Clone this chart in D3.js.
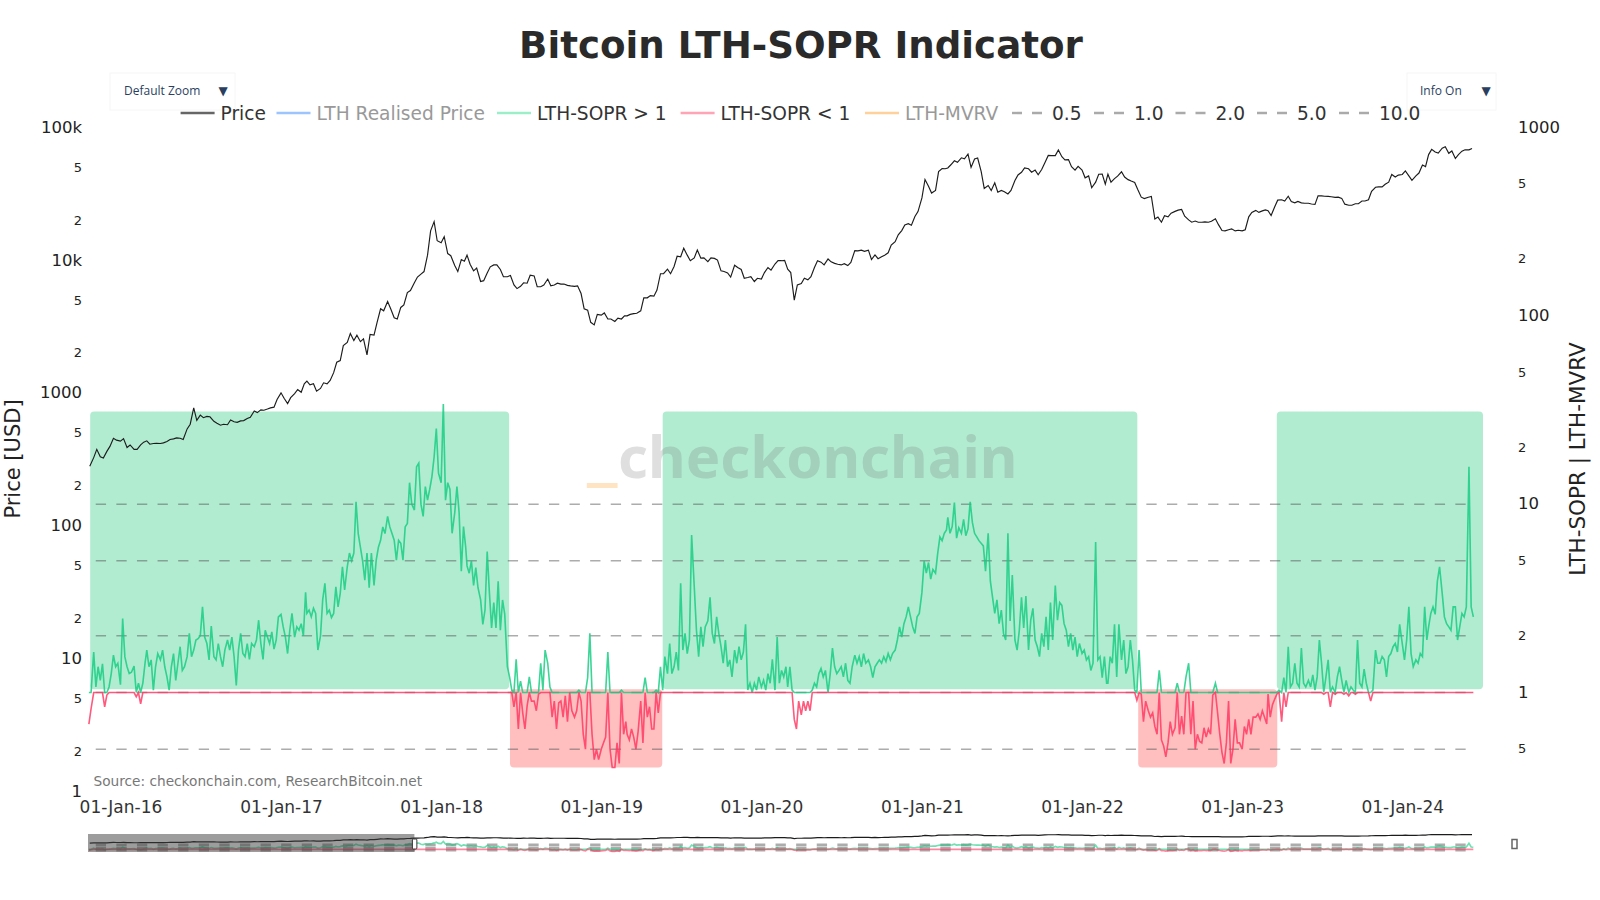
<!DOCTYPE html>
<html>
<head>
<meta charset="utf-8">
<title>Bitcoin LTH-SOPR Indicator</title>
<script src="https://cdn.jsdelivr.net/npm/d3@7"></script>
<style>
  body { margin: 0; background: #fff; }
  text { font-family: "DejaVu Sans", sans-serif; }
  .domain { display: none; }
</style>
</head>
<body>
<svg id="chart" width="1600" height="900"></svg>
<script>
// price, four readings a month (1st, 8th, 16th, 23rd)
var price2015 = [280, 325,375,330,323, 362,395,455,440];
var price2016 = [433,452,387,405, 375,375,405,425, 435,410,415,417, 415,420,430,445, 450,458,455,445, 535,580,770,620, 680,650,665,660, 610,590,570,580, 575,625,605,600, 615,618,640,655, 730,710,745,740, 755,770,780,890];
var price2017 = [1000,910,830,920, 985,1060,1010,1170, 1225,1150,1170,1030, 1080,1190,1170,1240, 1420,1700,1750,2270, 2400,2800,2480,2720, 2430,2550,1930,2750, 2720,3400,4300,4150, 4880,4300,3680,3600, 4400,4600,5700,5900, 6750,7450,7850,8200, 10900,16600,19500,14000];
var price2018 = [13500,15000,11200,10800, 9100,8200,10100,9800, 10900,9300,8300,8700, 6900,7000,8000,8900, 9200,9200,8500,7500, 7500,7650,6500,6100, 6350,6750,6700,7700, 7600,6300,6300,6500, 7200,6400,6500,6700, 6600,6600,6450,6400, 6350,6400,5600,4300, 4200,3400,3250,3900];
var price2019 = [3850,4000,3600,3600, 3450,3650,3600,3800, 3800,3900,3950,3980, 4150,5200,5200,5400, 5350,5950,7900,7900, 8550,7900,8950,10700, 10600,12300,10900,9900, 10400,11900,10350,10400, 9750,10400,10300,10000, 8300,8200,8000,7450, 9150,8800,8500,7300, 7400,7500,6900,7300];
var price2020 = [7200,8050,8800,8400, 9350,9900,9900,9950, 8550,8050,5000,6500, 6650,7300,7100,7500, 8800,9900,9650,9200, 10200,9700,9450,9300, 9200,9400,9100,9600, 11800,11750,11900,11650, 11900,10100,10950,10250, 10600,10900,11350,13000, 13750,15500,16700,18400, 18800,18300,21300,23200];
var price2021 = [29400,40500,36000,32000, 33500,46500,49000,48800, 49500,52300,56000,54500, 59000,58000,63000,50000, 57800,58800,46700,34700, 36500,33500,38300,32500, 33500,32800,31500,33500, 39800,43800,45900,49500, 48800,46000,47700,44000, 48200,53900,61500,61300, 61300,67500,60100,57000, 57200,50500,47600,50800];
var price2022 = [47700,41700,43100,35100, 38700,44400,44500,37300, 44400,38700,41100,42900, 46300,42300,40400,39400, 38500,34000,29800,29100, 29800,30200,20400,21100, 19300,21600,21200,22600, 23300,23800,24100,21400, 20100,19300,19700,19300, 19300,19400,19300,19600, 20500,18500,16700,16600, 16950,17200,16600,16800];
var price2023 = [16600,16950,21200,22900, 23700,22900,23500,23900, 23600,21700,25100,28300, 28500,27900,30300,27600, 27000,27700,27000,26800, 26800,26500,26300,30500, 30500,30300,30200,30000, 29700,29800,29200,26400, 25900,25900,26600,26600, 27900,27900,28500,33000, 35400,35600,35600,37300, 38700,44200,42300,43700];
var price2024 = [44200,47000,43100,39900, 43100,45300,52100,50700, 62400,68300,65300,64000, 69700,71600,63800,66400, 58300,62300,66200,67900, 67700,69300];

// LTH-SOPR, six readings a month (1st, 6th, 11th, 16th, 21st, 26th)
var sopr2015 = [0.68,0.82, 1.64,1.07,1.37,1.16,1.42,0.84, 0.97,1.07,1.26,1.58,1.37,1.43];
var sopr2016 = [1.1,2.47,1.55,1.37,1.26,1.28, 1.38,0.95,1.12,0.87,1.12,1.43, 1.68,1.37,1.49,1.03,1.37,1.61, 1.49,1.68,1.37,1.21,1.03,1.37, 1.61,1.16,1.43,1.75,1.31,1.37, 1.55,2.06,1.55,1.68,1.9,1.93, 2.0,2.85,1.97,1.82,1.49,2.25, 1.55,1.49,1.82,1.55,1.37,1.68, 1.9,1.68,1.97,1.55,1.09,1.68, 2.06,1.61,1.55,1.82,1.5,1.82, 1.75,1.9,2.42,1.82,1.5,2.14, 1.97,1.82,2.1,1.7,1.9,2.52];
var sopr2017 = [2.6,2.23,1.97,1.61,2.14,2.63, 1.97,2.23,2.14,2.32,2.0,3.4, 2.63,2.74,2.52,2.8,2.63,1.68, 2.0,3.1,3.8,2.63,2.74,2.5, 2.63,3.64,2.85,3.36,4.65,3.5, 4.65,5.5,5.0,5.5,10.3,6.98, 5.9,5.0,3.95,5.5,3.6,5.5, 3.7,5.04,5.9,6.43,7.57,6.98, 8.6,7.57,6.98,6.43,5.04,6.43, 6.2,5.04,7.57,7.9,13,10, 9.3,15.8,16.5,10,8.6,12.4, 10.5,12,14,17.8,25.2,14.6];
var sopr2018 = [13,34,10.5,13,12,7, 9,12.4,9,4.4,7.6,5.9, 4.7,4.3,5,3.7,4.6,3.6, 3.1,2.3,2.74,5.6,3.4,2.2, 3,2.2,3.9,2.14,3.1,2.6, 1.37,1.21,1.03,0.84,1.5,0.64, 1.15,0.78,0.64,0.85,1.21,0.9, 0.9,0.8,0.98,1.43,1.03,1.68, 1.43,1.07,0.74,0.9,0.64,0.88, 0.9,0.74,0.96,0.7,1.0,0.8, 0.74,0.8,1.03,0.9,0.6,0.5, 1.2,2.06,0.6,0.44,0.5,0.44];
var sopr2019 = [0.5,0.54,0.58,1.64,0.5,0.4, 0.4,0.54,0.42,1.03,0.6,0.7, 0.6,0.56,0.64,0.58,0.5,0.62, 0.9,0.54,1.2,0.74,0.84,0.64, 0.64,1.03,0.78,1.37,1.03,1.55, 1.26,1.82,1.26,1.37,1.64,1.31, 3.8,1.68,2.06,1.61,1.9,6.85, 3.64,2.14,1.55,2.23,1.75,2.23, 2.4,3.2,2.06,1.82,2.52,2.06, 1.75,1.43,1.9,1.37,1.49,1.21, 1.68,1.43,1.75,1.49,1.64,2.3, 1.03,1.12,1.0,1.12,1.03,1.21];
var sopr2020 = [1.07,1.16,1.03,1.26,1.12,1.5, 1.03,1.97,1.12,1.31,1.21,1.37, 1.07,1.37,1.03,0.72,0.64,0.9, 0.76,0.9,0.8,0.9,0.8,1.03, 1.12,1.07,1.26,1.34,1.21,1.31, 1.0,1.26,1.72,1.37,1.26,1.31, 1.37,1.21,1.43,1.16,1.12,1.37, 1.58,1.43,1.55,1.37,1.61,1.43, 1.49,1.37,1.2,1.37,1.43,1.49, 1.43,1.55,1.46,1.61,1.49,1.61, 1.68,1.9,2.23,1.97,2.32,2.52, 2.85,2.52,2.23,2.06,2.52,2.63];
var sopr2021 = [3.4,5.0,4.3,4.9,4.0,4.5, 4.3,5.5,6.7,6.4,7.0,7.3, 8.5,7.0,7.6,10.2,6.6,7.5, 7,8.3,6.8,7.4,10.3,8, 7,6.7,6.4,6.2,6.0,4.4, 7,3.9,3.2,2.63,3.1,2.32, 2.74,2.06,1.9,7.0,2.4,4.2, 1.9,1.68,2.14,3.2,2.2,3.25, 1.68,2.42,2.8,1.9,1.75,1.55, 2.06,1.75,2.52,1.68,3.0,1.9, 3.7,2.42,3.0,2.9,2.32,2.14, 1.75,2.06,1.68,1.97,1.55,1.82];
var sopr2022 = [1.61,1.68,1.49,1.55,1.31,1.43, 6.3,1.49,1.55,1.2,1.55,1.12, 1.12,1.55,1.43,2.3,1.21,2.3, 1.49,1.9,1.26,1.37,1.9,1.49, 1.03,0.91,1.68,0.98,0.7,0.9, 0.8,0.74,0.78,0.66,0.6,1.31, 0.56,0.52,0.455,0.54,0.7,0.6, 0.65,1.12,0.6,0.75,0.6,1.21, 1.43,0.6,0.9,0.5,0.6,0.55, 0.54,0.65,0.58,0.64,0.6,0.97, 1.12,0.78,0.6,0.48,0.42,0.54, 0.9,0.42,0.5,0.72,0.54,0.54];
var sopr2023 = [0.5,0.66,0.6,0.72,0.6,0.74, 0.74,0.77,0.72,0.8,0.74,0.68, 0.98,0.74,0.86,0.92,0.98,1.03, 0.7,1.2,0.84,1.75,1.07,1.12, 1.43,1.12,1.07,1.72,1.12,1.07, 1.16,1.07,1.24,1.03,1.21,1.9, 1.43,0.98,1.21,1.49,0.84,1.07, 0.98,1.21,1.37,1.16,0.98,1.16, 0.96,1.07,1.03,0.98,1.9,1.12, 1.07,1.33,1.12,1.0,0.9,1.03, 1.68,1.43,1.43,1.55,1.49,1.21, 1.55,1.61,1.75,1.82,1.64,2.3];
var sopr2024 = [1.82,1.49,1.9,2.85,1.61,1.37, 1.49,1.43,1.61,1.55,2.85,1.9, 2.23,2.63,2.85,2.6,3.9,4.65, 3.36,2.52,2.32,2.23,2.14,2.85, 2.85,1.9,2.23,2.63,2.52,2.85, 15.8,2.85,2.52];

// shaded regimes
var bullStart = ["2015-10-24", "2019-05-21", "2023-03-21"];
var bullEnd = ["2018-06-05", "2022-05-07", "2024-07-03"];
var bearStart = ["2018-06-07", "2022-05-09"];
var bearEnd = ["2019-05-20", "2023-03-22"];
var bullBand = [1.04, 31];
var bearBand = [0.4, 1.04];

var levels = [0.5, 1, 2, 5, 10];
var leftTicks = [100000, 50000, 20000, 10000, 5000, 2000, 1000, 500, 200, 100, 50, 20, 10, 5, 2, 1];
var leftLabels = ["100k", "5", "2", "10k", "5", "2", "1000", "5", "2", "100", "5", "2", "10", "5", "2", "1"];
var rightTicks = [1000, 500, 200, 100, 50, 20, 10, 5, 2, 1, 0.5];
var rightLabels = ["1000", "5", "2", "100", "5", "2", "10", "5", "2", "1", "5"];
var yearTicks = ["2016-01-01", "2017-01-01", "2018-01-01", "2019-01-01", "2020-01-01", "2021-01-01", "2022-01-01", "2023-01-01", "2024-01-01"];
var legendNames = ["Price", "LTH Realised Price", "LTH-SOPR > 1", "LTH-SOPR < 1", "LTH-MVRV", "0.5", "1.0", "2.0", "5.0", "10.0"];
var legendColors = ["#666", "#9cc4ff", "#9aefc8", "#ffa3b5", "#ffd09a", "#aaa", "#aaa", "#aaa", "#aaa", "#aaa"];
var legendOff = ["LTH Realised Price", "LTH-MVRV"];
var sliderEnd = "2017-11-01";

var parseDay = d3.utcParse("%Y-%m-%d");

// one row per reading, walking months forward from the first slot
function stamp(values, firstMonth, days, firstSlot) {
  var out = [];
  var month = parseDay(firstMonth + "-01");
  var slot = firstSlot;
  values.forEach(function(v) {
    out.push({
      date: new Date(Date.UTC(month.getUTCFullYear(), month.getUTCMonth(), days[slot])),
      value: v,
    });
    slot += 1;
    if(slot === days.length) {
      slot = 0;
      month = d3.utcMonth.offset(month, 1);
    }
  });
  return out;
}

var price = stamp([].concat(price2015, price2016, price2017, price2018, price2019, price2020, price2021, price2022, price2023, price2024), "2015-10", [1, 8, 16, 23], 3);
var sopr = stamp([].concat(sopr2015, sopr2016, sopr2017, sopr2018, sopr2019, sopr2020, sopr2021, sopr2022, sopr2023, sopr2024), "2015-10", [1, 6, 11, 16, 21, 26], 4);

var svg = d3.select("#chart");

var plotLeft = 88, plotRight = 1483, plotTop = 127.4, plotBottom = 791;
var x = d3.scaleUtc().domain([parseDay("2015-10-19"), parseDay("2024-07-03")]).range([plotLeft, plotRight]);
var yPrice = d3.scaleLog().domain([1, 100000]).range([plotBottom, plotTop]);
var ySopr = d3.scaleLog().domain([0.3, 1000]).range([plotBottom, plotTop]);
var yPriceMini = yPrice.copy().range([852, 834]);
var ySoprMini = ySopr.copy().range([852, 834]);

// title
svg.append("text").attr("x", 801).attr("y", 58)
  .attr("text-anchor", "middle")
  .style("font-size", "37.2px").style("font-weight", "bold").style("fill", "#2a2a2a")
  .text("Bitcoin LTH-SOPR Indicator");

// regime rectangles
function regimes(starts, ends, band, color) {
  starts.forEach(function(s, i) {
    svg.append("rect")
      .attr("x", x(parseDay(s)))
      .attr("width", x(parseDay(ends[i])) - x(parseDay(s)))
      .attr("y", ySopr(band[1]))
      .attr("height", ySopr(band[0]) - ySopr(band[1]))
      .attr("rx", 4)
      .style("fill", color);
  });
}
regimes(bullStart, bullEnd, bullBand, "#b1ecd1");
regimes(bearStart, bearEnd, bearBand, "#ffbfbf");

// watermark
svg.append("text").attr("x", 587).attr("y", 476)
  .style("font-family", "'Noto Sans'").style("font-size", "74px").style("font-weight", "bold")
  .style("fill", "rgba(255,165,60,0.3)").text("_");
svg.append("text").attr("x", 618).attr("y", 478)
  .style("font-family", "'Noto Sans'").style("font-size", "58px").style("font-weight", "bold")
  .style("fill", "rgba(110,110,110,0.22)").text("checkonchain");

function drawLevels(y, width) {
  levels.forEach(function(l) {
    svg.append("line")
      .attr("x1", x(price[0].date)).attr("x2", x(sopr[sopr.length - 1].date))
      .attr("y1", y(l)).attr("y2", y(l))
      .style("stroke", "rgba(90,90,90,0.5)").style("stroke-width", width)
      .style("stroke-dasharray", "10.3,10.3").style("stroke-dashoffset", 14.6);
  });
}

function drawLines(yP, yS, lineWidth, soprOpacity) {
  var upper = d3.line().x(function(d) { return x(d.date); }).y(function(d) { return yS(Math.max(d.value, 1)); });
  var lower = d3.line().x(function(d) { return x(d.date); }).y(function(d) { return yS(Math.min(d.value, 1)); });
  var priceLine = d3.line().x(function(d) { return x(d.date); }).y(function(d) { return yP(d.value); });
  svg.append("path").datum(sopr).attr("d", upper)
    .style("fill", "none").style("stroke", "#12cc80").style("stroke-width", lineWidth * 1.4).style("opacity", soprOpacity);
  svg.append("path").datum(sopr).attr("d", lower)
    .style("fill", "none").style("stroke", "#ff3560").style("stroke-width", lineWidth * 1.4).style("opacity", soprOpacity);
  svg.append("path").datum(price).attr("d", priceLine)
    .style("fill", "none").style("stroke", "#1c1c1c").style("stroke-width", lineWidth);
}

drawLevels(ySopr, 1.5);
drawLines(yPrice, ySopr, 1.15, 0.82);

// axes
function tickLabel(values, labels) {
  return function(d) { return labels[values.indexOf(d)]; };
}
function styleTicks(g, labels) {
  g.selectAll(".tick text")
    .style("font-size", function(d, i) { return labels[i].length > 1 || labels[i] === "1" ? "16.5px" : "13px"; })
    .style("fill", "#222");
}

var leftAxis = svg.append("g").attr("transform", "translate(82,-0.2)")
  .call(d3.axisLeft(yPrice).tickValues(leftTicks).tickFormat(tickLabel(leftTicks, leftLabels)).tickSize(0).tickPadding(0));
styleTicks(leftAxis, leftLabels);

var rightAxis = svg.append("g").attr("transform", "translate(1518,-0.5)")
  .call(d3.axisRight(ySopr).tickValues(rightTicks).tickFormat(tickLabel(rightTicks, rightLabels)).tickSize(0).tickPadding(0));
styleTicks(rightAxis, rightLabels);

var bottomAxis = svg.append("g").attr("transform", "translate(0,801)")
  .call(d3.axisBottom(x).tickValues(yearTicks.map(parseDay)).tickFormat(d3.utcFormat("%d-%b-%y")).tickSize(0).tickPadding(0));
bottomAxis.selectAll(".tick text").style("font-size", "17px").style("fill", "#333");

svg.append("text").attr("transform", "translate(20,459) rotate(-90)")
  .attr("text-anchor", "middle").style("font-size", "21px").style("fill", "#222")
  .text("Price [USD]");
svg.append("text").attr("transform", "translate(1585,459) rotate(-90)")
  .attr("text-anchor", "middle").style("font-size", "21.5px").style("fill", "#222")
  .text("LTH-SOPR | LTH-MVRV");

svg.append("text").attr("x", 93.5).attr("y", 785.5)
  .style("font-size", "13.7px").style("fill", "#777")
  .text("Source: checkonchain.com, ResearchBitcoin.net");

// buttons
function button(left, width, label, textX, arrowX) {
  svg.append("rect").attr("x", left).attr("y", 73).attr("width", width).attr("height", 37)
    .style("fill", "#fff").style("stroke", "#f6f6f6");
  svg.append("text").attr("x", textX).attr("y", 95)
    .style("font-family", "'Open Sans'").style("font-size", "12px").style("fill", "#2a3f5f").text(label);
  svg.append("text").attr("x", arrowX).attr("y", 95).attr("text-anchor", "middle")
    .style("font-size", "12px").style("fill", "#2a3f5f").text("▼");
}
button(110, 125, "Default Zoom", 124, 223);
button(1407, 89, "Info On", 1420, 1486);

// legend
var legendLeft = [180.6, 276.5, 497, 680.6, 865, 1012, 1094, 1175.5, 1257, 1339];
legendNames.forEach(function(name, i) {
  var isLevel = i >= 5;
  svg.append("line")
    .attr("x1", legendLeft[i]).attr("x2", legendLeft[i] + 34).attr("y1", 113).attr("y2", 113)
    .style("stroke", legendColors[i]).style("stroke-width", 2.4)
    .style("stroke-dasharray", isLevel ? "10,10" : null);
  svg.append("text").attr("x", legendLeft[i] + 40).attr("y", 119.5)
    .style("font-size", "18.6px")
    .style("fill", legendOff.indexOf(name) >= 0 ? "#999" : "#333")
    .text(name);
});

// range slider
drawLevels(ySoprMini, 1.5);
drawLines(yPriceMini, ySoprMini, 1.2, 0.6);
svg.append("rect")
  .attr("x", plotLeft).attr("y", 834)
  .attr("width", x(parseDay(sliderEnd)) - plotLeft).attr("height", 18)
  .style("fill", "rgba(60,60,60,0.5)");
svg.append("rect")
  .attr("x", x(parseDay(sliderEnd)) - 2).attr("y", 839).attr("width", 4.5).attr("height", 10).attr("rx", 1)
  .style("fill", "#fff").style("stroke", "#333");
svg.append("rect")
  .attr("x", 1512).attr("y", 839.5).attr("width", 5).attr("height", 9)
  .style("fill", "none").style("stroke", "#666").style("stroke-width", 1.5);
</script>
</body>
</html>
